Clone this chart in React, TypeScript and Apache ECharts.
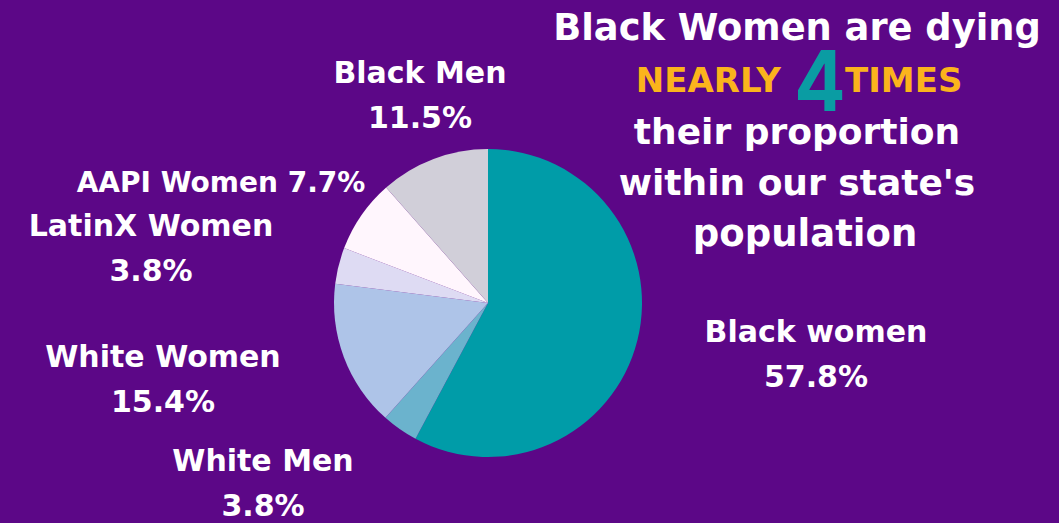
import React, { useEffect, useRef } from "react";
import * as echarts from "echarts";

const categories = ["Black women", "White Men", "White Women", "LatinX Women", "AAPI Women", "Black Men"];
const values = [57.8, 3.8, 15.4, 3.8, 7.7, 11.5];
const colors = ["#009ca8", "#6bb3cd", "#aec4e8", "#dedbf3", "#fff6fd", "#d1cfd9"];
const singleLine = [false, false, false, false, true, false];
const labelPos: [number, number][] = [
  [816, 354],
  [263, 483],
  [163, 379],
  [151, 248],
  [221, 182],
  [420, 95],
];
const headline = ["Black Women are dying", "their proportion", "within our state's", "population"];

const FONT = "'DejaVu Sans', Inter, sans-serif";

export default function App() {
  const ref = useRef<HTMLDivElement>(null);
  useEffect(() => {
    document.body.style.margin = "0";
    const chart = echarts.init(ref.current!, null, { renderer: "svg" });
    const cx = 797;
    const hl = `700 36px ${FONT}`;
    const hs = `700 34px ${FONT}`;
    chart.setOption({
      animation: false,
      backgroundColor: "#5c0787",
      graphic: [
        { type: "text", x: cx, y: 27, style: { text: headline[0], fill: "#ffffff", font: `700 36.8px ${FONT}`, align: "center", verticalAlign: "middle" } },
        { type: "text", x: 781, y: 80, style: { text: "NEARLY", fill: "#fbb41c", font: hs, align: "right", verticalAlign: "middle" } },
        { type: "text", x: 820, y: 81, scaleX: 1.15, scaleY: 1.27, style: { text: "4", fill: "#0a9ca3", font: `700 66px Inter, sans-serif`, align: "center", verticalAlign: "middle" } },
        { type: "text", x: 845, y: 80, style: { text: "TIMES", fill: "#fbb41c", font: hs, align: "left", verticalAlign: "middle" } },
        { type: "text", x: cx, y: 131, style: { text: headline[1], fill: "#ffffff", font: hl, align: "center", verticalAlign: "middle" } },
        { type: "text", x: cx, y: 182, style: { text: headline[2], fill: "#ffffff", font: hl, align: "center", verticalAlign: "middle" } },
        { type: "text", x: 805, y: 233, style: { text: headline[3], fill: "#ffffff", font: `700 37px ${FONT}`, align: "center", verticalAlign: "middle" } },
      ],
      series: [
        {
          type: "pie",
          center: [488, 303],
          radius: 154,
          startAngle: 90,
          clockwise: true,
          label: {
            show: true,
            color: "#ffffff",
            fontFamily: FONT,
            fontWeight: 600,
            fontSize: 30,
            lineHeight: 45,
            align: "center",
            formatter: (p: any) => (singleLine[p.dataIndex] ? `${p.name} ${p.value}%` : `${p.name}\n${p.value}%`),
          },
          labelLine: { show: false },
          labelLayout: (p: any) => ({
            x: labelPos[p.dataIndex][0],
            y: labelPos[p.dataIndex][1],
            align: "center",
            verticalAlign: "middle",
          }),
          emphasis: { disabled: true },
          data: categories.map((name, i) => ({
            name,
            value: values[i],
            itemStyle: { color: colors[i] },
            label: singleLine[i] ? { fontSize: 28 } : undefined,
          })),
        },
      ],
    });
    return () => chart.dispose();
  }, []);
  return <div ref={ref} style={{ width: 1059, height: 523 }} />;
}
